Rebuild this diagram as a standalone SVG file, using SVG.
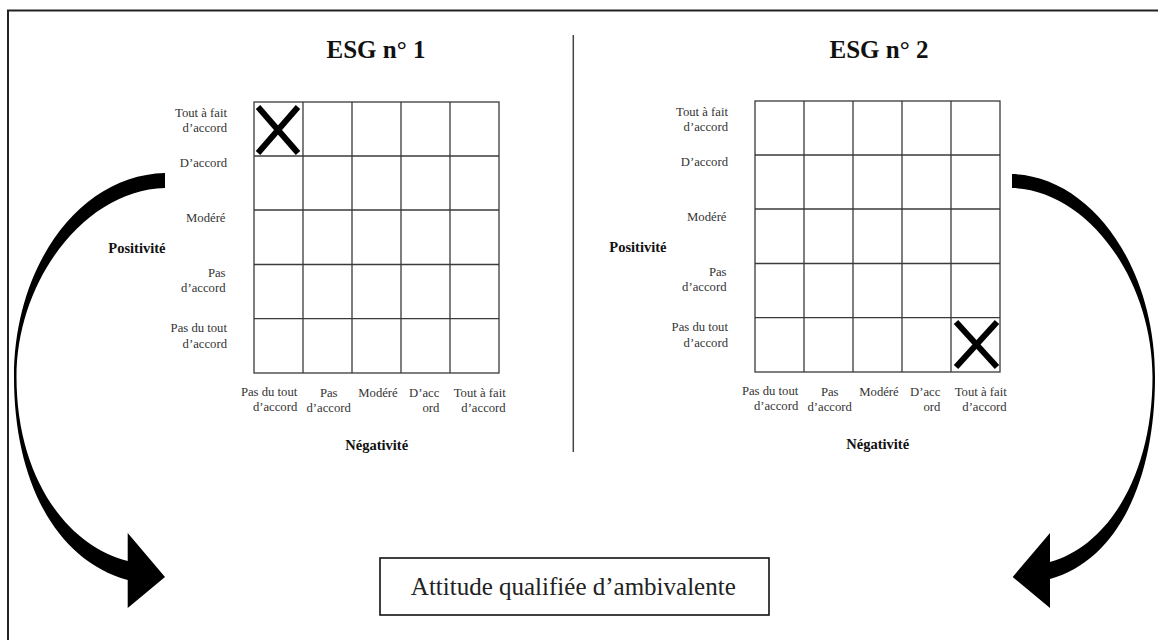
<svg xmlns="http://www.w3.org/2000/svg" width="1158" height="640" viewBox="0 0 1158 640">
<style>
text{font-family:"Liberation Serif","Times New Roman",serif}
.lbl{font-size:12.7px;fill:#333}
.r{text-anchor:end}
.c{text-anchor:middle}
.axis{font-size:14.5px;font-weight:bold;fill:#111}
.title{font-size:25px;font-weight:bold;fill:#111;text-anchor:middle}
.grid{fill:none;stroke:#3a3a3a;stroke-width:1.3}
.x{stroke:#000;stroke-width:6;stroke-linecap:butt}
.arrow{fill:#000;stroke:none}
</style>
<rect width="1158" height="640" fill="#fff"/>
<rect x="8" y="10.5" width="1170" height="650" fill="none" stroke="#222" stroke-width="2"/>
<line x1="573.3" y1="35" x2="573.3" y2="452" stroke="#444" stroke-width="1.5"/>
<text class="title" x="376" y="58.3">ESG n° 1</text>
<text class="title" x="879" y="58.3">ESG n° 2</text>
<g id="esg1">
<g class="grid">
<rect x="254" y="102" width="245" height="271"/>
<line x1="303" y1="102" x2="303" y2="373"/>
<line x1="352" y1="102" x2="352" y2="373"/>
<line x1="401" y1="102" x2="401" y2="373"/>
<line x1="450" y1="102" x2="450" y2="373"/>
<line x1="254" y1="156" x2="499" y2="156"/>
<line x1="254" y1="210" x2="499" y2="210"/>
<line x1="254" y1="264.5" x2="499" y2="264.5"/>
<line x1="254" y1="318.7" x2="499" y2="318.7"/>
</g>
<text class="lbl r" x="227" y="117">Tout à fait</text>
<text class="lbl r" x="227" y="132">d’accord</text>
<text class="lbl r" x="227" y="167">D’accord</text>
<text class="lbl r" x="225.5" y="222">Modéré</text>
<text class="lbl r" x="225.5" y="277">Pas</text>
<text class="lbl r" x="225.5" y="292">d’accord</text>
<text class="lbl r" x="227" y="332">Pas du tout</text>
<text class="lbl r" x="227" y="347.5">d’accord</text>
<text class="axis" x="108.3" y="253">Positivité</text>
<text class="lbl r" x="297.3" y="396">Pas du tout</text>
<text class="lbl r" x="297.3" y="411">d’accord</text>
<text class="lbl c" x="328.7" y="396.5">Pas</text>
<text class="lbl c" x="328.7" y="412">d’accord</text>
<text class="lbl c" x="378" y="396.5">Modéré</text>
<text class="lbl r" x="439.3" y="396.5">D’acc</text>
<text class="lbl r" x="439.3" y="411.5">ord</text>
<text class="lbl r" x="505.7" y="397">Tout à fait</text>
<text class="lbl r" x="505.7" y="412">d’accord</text>
<text class="axis c" x="376.7" y="450">Négativité</text>
<line class="x" x1="258" y1="107" x2="298" y2="153"/>
<line class="x" x1="298" y1="107" x2="258" y2="153"/>
</g>
<g id="esg2" transform="translate(501,-1)">
<g class="grid">
<rect x="254" y="102" width="245" height="271"/>
<line x1="303" y1="102" x2="303" y2="373"/>
<line x1="352" y1="102" x2="352" y2="373"/>
<line x1="401" y1="102" x2="401" y2="373"/>
<line x1="450" y1="102" x2="450" y2="373"/>
<line x1="254" y1="156" x2="499" y2="156"/>
<line x1="254" y1="210" x2="499" y2="210"/>
<line x1="254" y1="264.5" x2="499" y2="264.5"/>
<line x1="254" y1="318.7" x2="499" y2="318.7"/>
</g>
<text class="lbl r" x="227" y="117">Tout à fait</text>
<text class="lbl r" x="227" y="132">d’accord</text>
<text class="lbl r" x="227" y="167">D’accord</text>
<text class="lbl r" x="225.5" y="222">Modéré</text>
<text class="lbl r" x="225.5" y="277">Pas</text>
<text class="lbl r" x="225.5" y="292">d’accord</text>
<text class="lbl r" x="227" y="332">Pas du tout</text>
<text class="lbl r" x="227" y="347.5">d’accord</text>
<text class="axis" x="108.3" y="253">Positivité</text>
<text class="lbl r" x="297.3" y="396">Pas du tout</text>
<text class="lbl r" x="297.3" y="411">d’accord</text>
<text class="lbl c" x="328.7" y="396.5">Pas</text>
<text class="lbl c" x="328.7" y="412">d’accord</text>
<text class="lbl c" x="378" y="396.5">Modéré</text>
<text class="lbl r" x="439.3" y="396.5">D’acc</text>
<text class="lbl r" x="439.3" y="411.5">ord</text>
<text class="lbl r" x="505.7" y="397">Tout à fait</text>
<text class="lbl r" x="505.7" y="412">d’accord</text>
<text class="axis c" x="376.7" y="450">Négativité</text>
<line class="x" x1="455" y1="323" x2="496" y2="368"/>
<line class="x" x1="496" y1="323" x2="455" y2="368"/>
</g>
<g id="result">
<rect x="380" y="558" width="389" height="57" fill="#fff" stroke="#111" stroke-width="1.6"/>
<text x="573.3" y="595" font-size="25" fill="#222" text-anchor="middle">Attitude qualifiée d’ambivalente</text>
</g>
<g id="connectors">
<path class="arrow" d="M165,173 C80,175 14,265 14,377 C14,480 55,560 127.7,580 L127.7,608 L165,577 L127.7,533 L127.7,561 C65,545 16.5,475 16.5,377 C16.5,280 85,190 165,188 Z"/>
<path class="arrow" d="M1012,174 C1090,176 1155,265 1155,377 C1155,480 1118,560 1050,579 L1050,608 L1012.7,577 L1050,533 L1050,562 C1108,546 1152.5,475 1152.5,377 C1152.5,280 1088,190 1012,188 Z"/>
</g>
</svg>
